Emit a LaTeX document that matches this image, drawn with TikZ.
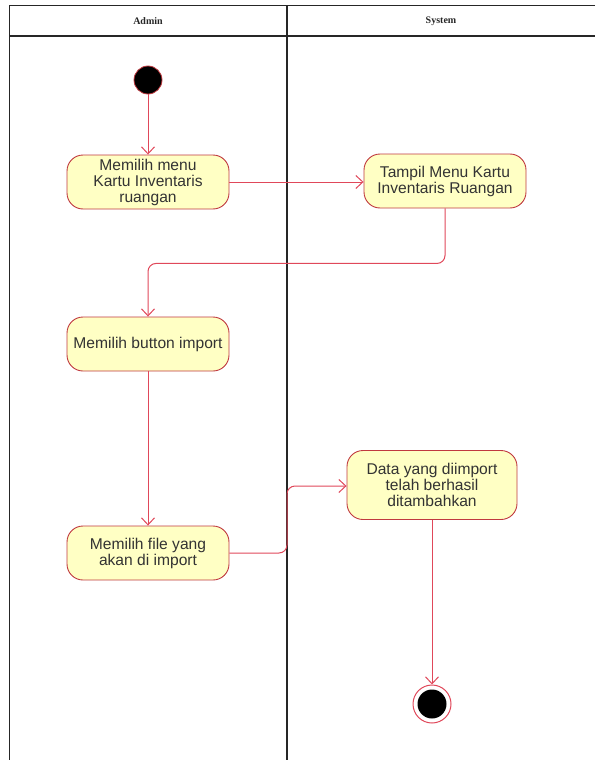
\documentclass[tikz,border=0pt]{standalone}
\usepackage{fontspec}
\setmainfont{Liberation Sans}
\newfontfamily\headfont{Liberation Serif}
\usetikzlibrary{arrows.meta}
\definecolor{actfill}{HTML}{FFFFC4}
\definecolor{actline}{HTML}{C0393F}
\definecolor{flowline}{HTML}{E0485A}
\begin{document}
\begin{tikzpicture}[x=1pt,y=-1pt,
  lane/.style={draw=black!85,line width=1.3pt},
  action/.style={draw=actline,fill=actfill,line width=0.9pt,rounded corners=16pt,
    minimum width=162pt,minimum height=54pt,align=center,inner sep=1pt,
    font=\fontsize{15.6}{16}\selectfont,text=black!80},
  flow/.style={draw=flowline,line width=1pt,rounded corners=8pt,
    -{Straight Barb[length=7pt,width=13pt,line width=1pt]}},
  lanetitle/.style={font=\headfont\bfseries\fontsize{10}{12}\selectfont,text=black!85}]
  \useasboundingbox (0,0) rectangle (595,760);

  % swimlane frame
  \draw[lane] (595,5.5) -- (9.5,5.5) -- (9.5,760);
  \draw[lane] (9.5,36) -- (595,36);
  \draw[lane] (287,5.5) -- (287,760);
  \node[lanetitle] (hA) at (148,21) {Admin};
  \node[lanetitle] (hS) at (441,21) {System};

  % start and end
  \node[circle,fill=black,draw=actline,line width=0.8pt,minimum size=28pt,inner sep=0pt] (start) at (148,80) {};
  \node[circle,fill=white,draw=flowline,line width=1pt,minimum size=38pt,inner sep=0pt] (end) at (432,704) {};
  \node[circle,fill=black,minimum size=29pt,inner sep=0pt] (endin) at (end.center) {};

  % actions
  \node[action] (a1) at (148,182) {Memilih menu\\Kartu Inventaris\\ruangan};
  \node[action] (a2) at (445,181) {Tampil Menu Kartu\\Inventaris Ruangan};
  \node[action] (a3) at (148,344) {Memilih button import};
  \node[action] (a4) at (148,553) {Memilih file yang\\akan di import};
  \node[action,minimum width=170pt,minimum height=69pt] (a5) at (432,485) {Data yang diimport\\telah berhasil\\ditambahkan};

  % flows
  \draw[flow] (start) -- (a1);
  \draw[flow] (a1.east) -- (a1.east -| a2.west);
  \draw[flow] (a2.south) -- ++(0,55) -| (a3.north);
  \draw[flow] (a3) -- (a4);
  \draw[flow] (a4.east) -- (287,553) -- (287,486) -- (a5.west |- 0,486);
  \draw[flow] (a5) -- (end);
\end{tikzpicture}
\end{document}
